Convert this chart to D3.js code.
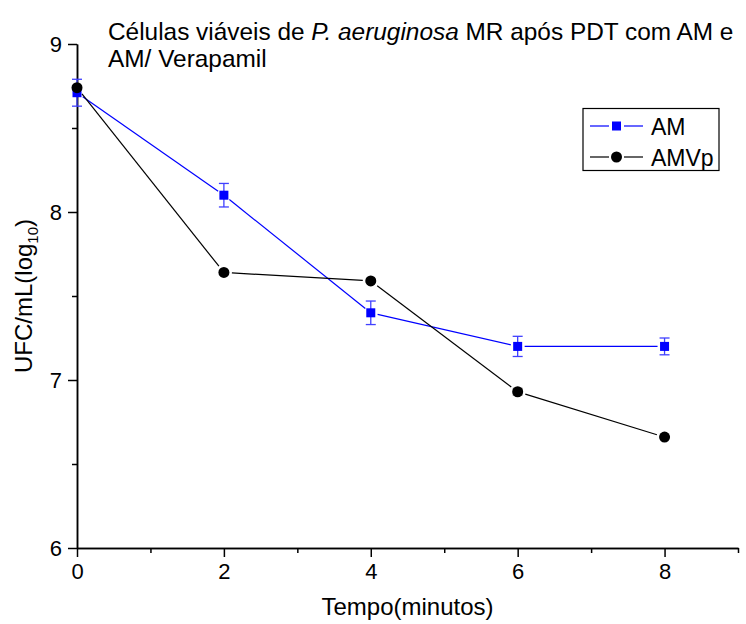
<!DOCTYPE html>
<html>
<head>
<meta charset="utf-8">
<script src="https://cdn.jsdelivr.net/npm/d3@7"></script>
<style>
  body { margin: 0; background: #fff; }
  svg { display: block; font-family: "Liberation Sans", Arial, sans-serif; }
</style>
</head>
<body>
<div id="chart"></div>
<script>
// values
const tempo = [0, 2, 4, 6, 8];
const am = [8.71, 8.10, 7.40, 7.20, 7.20];
const amErr = [0.08, 0.07, 0.07, 0.06, 0.05];
const amvp = [8.74, 7.64, 7.59, 6.93, 6.66];
const amvpErr = [0, 0, 0, 0.02, 0];
const xMajor = [0, 2, 4, 6, 8];
const xMinor = [1, 3, 5, 7, 9];
const yMajor = [6, 7, 8, 9];
const yMinor = [6.5, 7.5, 8.5];

const width = 746, height = 624;
const svg = d3.select('#chart').append('svg')
  .attr('width', width)
  .attr('height', height);

const x = d3.scaleLinear().domain([0, 9]).range([77, 738]);
const y = d3.scaleLinear().domain([6, 9]).range([548, 44]);

// axes
const xAxis = svg.append('g').attr('transform', `translate(0,${y(6)})`);
xAxis.call(d3.axisBottom(x).tickValues(xMajor).tickFormat(d3.format('d')).tickSize(9).tickSizeOuter(0).tickPadding(6));
xAxis.append('g').call(d3.axisBottom(x).tickValues(xMinor).tickSize(5).tickSizeOuter(0).tickFormat(''));

const yAxis = svg.append('g').attr('transform', `translate(${x(0)},0)`);
yAxis.call(d3.axisLeft(y).tickValues(yMajor).tickFormat(d3.format('d')).tickSize(9).tickSizeOuter(0).tickPadding(6));
yAxis.append('g').call(d3.axisLeft(y).tickValues(yMinor).tickSize(5).tickSizeOuter(0).tickFormat(''));

svg.selectAll('.domain').attr('stroke', '#000').attr('stroke-width', 1.5);
svg.selectAll('.tick line').attr('stroke', '#000').attr('stroke-width', 1.5);
svg.selectAll('.tick text').attr('font-size', 22).attr('fill', '#000')
  .attr('font-family', '"Liberation Sans", Arial, sans-serif');

// axis titles
svg.append('text')
  .attr('x', (x(0) + x(9)) / 2)
  .attr('y', 615)
  .attr('text-anchor', 'middle')
  .attr('font-size', 24)
  .text('Tempo(minutos)');

const yTitle = svg.append('text')
  .attr('transform', `translate(32,${(y(6) + y(9)) / 2}) rotate(-90)`)
  .attr('text-anchor', 'middle')
  .attr('font-size', 24);
yTitle.append('tspan').text('UFC/mL(log');
yTitle.append('tspan').attr('font-size', 15).attr('dy', 6).text('10');
yTitle.append('tspan').attr('dy', -6).text(')');

// title
const title = svg.append('text').attr('font-size', 24.4);
const l1 = title.append('tspan').attr('x', 108).attr('y', 40);
l1.append('tspan').text('Células viáveis de ');
l1.append('tspan').attr('font-style', 'italic').text('P. aeruginosa');
l1.append('tspan').text(' MR após PDT com AM e');
title.append('tspan').attr('x', 108).attr('y', 67).text('AM/ Verapamil');

// line segments that stop short of the markers
function drawSeries(vals, color, gap) {
  const pts = tempo.map((t, i) => [x(t), y(vals[i])]);
  for (let i = 0; i < pts.length - 1; i++) {
    const [x1, y1] = pts[i], [x2, y2] = pts[i + 1];
    const len = Math.hypot(x2 - x1, y2 - y1);
    const ux = (x2 - x1) / len, uy = (y2 - y1) / len;
    svg.append('line')
      .attr('x1', x1 + ux * gap).attr('y1', y1 + uy * gap)
      .attr('x2', x2 - ux * gap).attr('y2', y2 - uy * gap)
      .attr('stroke', color).attr('stroke-width', 1.2);
  }
}

function drawErr(vals, errs, color) {
  tempo.forEach((t, i) => {
    if (!errs[i]) return;
    const cx = x(t), top = y(vals[i] + errs[i]), bot = y(vals[i] - errs[i]);
    const g = svg.append('g').attr('stroke', color).attr('stroke-width', 1.3);
    g.append('line').attr('x1', cx).attr('x2', cx).attr('y1', top).attr('y2', bot);
    g.append('line').attr('x1', cx - 5).attr('x2', cx + 5).attr('y1', top).attr('y2', top);
    g.append('line').attr('x1', cx - 5).attr('x2', cx + 5).attr('y1', bot).attr('y2', bot);
  });
}

drawSeries(am, '#0000ff', 7);
drawSeries(amvp, '#000', 8);
drawErr(am, amErr, '#4040ff');
drawErr(amvp, amvpErr, '#999');

svg.selectAll('.sq').data(tempo).enter().append('rect')
  .attr('x', (d) => x(d) - 4.5)
  .attr('y', (d, i) => y(am[i]) - 4.5)
  .attr('width', 9).attr('height', 9)
  .attr('fill', '#0000ff');

svg.selectAll('.dot').data(tempo).enter().append('circle')
  .attr('cx', (d) => x(d))
  .attr('cy', (d, i) => y(amvp[i]))
  .attr('r', 5.5)
  .attr('fill', '#000');

// legend
const lg = svg.append('g');
lg.append('rect')
  .attr('x', 583).attr('y', 108.5).attr('width', 136).attr('height', 62)
  .attr('fill', '#fff').attr('stroke', '#000').attr('stroke-width', 1.2);
const items = [
  { name: 'AM', color: '#0000ff', shape: 'square', yy: 126 },
  { name: 'AMVp', color: '#000', shape: 'circle', yy: 157 }
];
items.forEach((it) => {
  lg.append('line').attr('x1', 590).attr('x2', 609).attr('y1', it.yy).attr('y2', it.yy)
    .attr('stroke', it.color).attr('stroke-width', 1.2);
  lg.append('line').attr('x1', 624).attr('x2', 643).attr('y1', it.yy).attr('y2', it.yy)
    .attr('stroke', it.color).attr('stroke-width', 1.2);
  if (it.shape === 'square') {
    lg.append('rect').attr('x', 612).attr('y', it.yy - 4.5).attr('width', 9).attr('height', 9)
      .attr('fill', it.color);
  } else {
    lg.append('circle').attr('cx', 616.5).attr('cy', it.yy).attr('r', 5.5).attr('fill', it.color);
  }
  lg.append('text').attr('x', 651).attr('y', it.yy + 8.5)
    .attr('font-size', 23).text(it.name);
});
</script>
</body>
</html>
